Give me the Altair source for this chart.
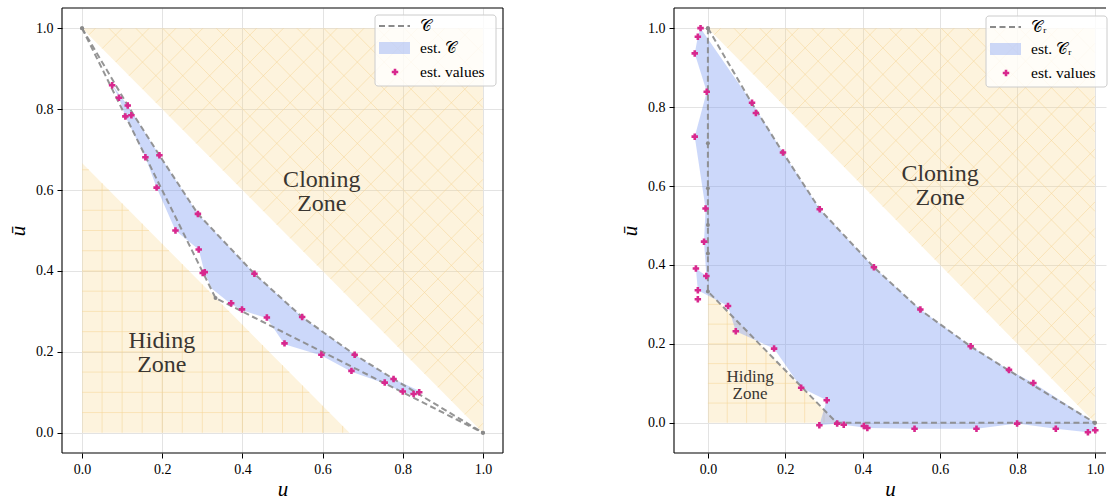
import altair as alt
import pandas as pd
import numpy as np

SERIF = "Liberation Serif"
TICKS = [0.0, 0.2, 0.4, 0.6, 0.8, 1.0]

# ---------------- left panel data ----------------
c_upper_u = [0.0, 0.114, 0.193, 0.289, 0.430, 0.549, 0.680, 0.777, 1.0]
c_upper_ub = [1.0, 0.809, 0.686, 0.541, 0.393, 0.286, 0.193, 0.133, 0.0]
c_lower_u = [0.0, 0.333, 1.0]
c_lower_ub = [1.0, 0.333, 0.0]

left_est_u = [0.075, 0.092, 0.114, 0.108, 0.123, 0.158, 0.193, 0.186, 0.233, 0.289,
              0.291, 0.301, 0.306, 0.372, 0.399, 0.430, 0.461, 0.549, 0.505, 0.597,
              0.680, 0.672, 0.777, 0.755, 0.800, 0.827, 0.841]
left_est_ub = [0.859, 0.828, 0.809, 0.782, 0.785, 0.681, 0.686, 0.606, 0.500, 0.541,
               0.453, 0.395, 0.397, 0.320, 0.305, 0.393, 0.285, 0.286, 0.221, 0.193,
               0.193, 0.153, 0.133, 0.124, 0.102, 0.096, 0.100]

left_band_u = [0.075, 0.114, 0.193, 0.289, 0.430, 0.549, 0.680, 0.777, 0.845, 0.827,
               0.800, 0.755, 0.672, 0.597, 0.505, 0.461, 0.399, 0.372, 0.324, 0.306,
               0.291, 0.233, 0.186, 0.158, 0.108, 0.092]
left_band_ub = [0.860, 0.809, 0.686, 0.541, 0.393, 0.286, 0.193, 0.133, 0.102, 0.094,
                0.100, 0.122, 0.151, 0.191, 0.219, 0.283, 0.303, 0.318, 0.356, 0.395,
                0.453, 0.500, 0.606, 0.681, 0.782, 0.828]

# ---------------- right panel data ----------------
cr_upper_u = [0.0, 0.114, 0.193, 0.289, 0.430, 0.549, 0.680, 0.777, 1.0]
cr_upper_ub = [1.0, 0.809, 0.686, 0.541, 0.393, 0.286, 0.193, 0.133, 0.0]
cr_lower_u = [0.0, 0.0, 0.0, 0.0, 0.0, 0.0, 0.333, 1.0]
cr_lower_ub = [1.0, 0.708, 0.594, 0.501, 0.429, 0.333, 0.0, 0.0]

right_est_u = [-0.019, -0.026, -0.034, -0.003, -0.034, -0.006, -0.010, -0.031, -0.004, -0.026,
               -0.026, 0.052, 0.072, 0.171, 0.241, 0.307, 0.288, 0.334, 0.351, 0.403,
               0.412, 0.534, 0.694, 0.799, 0.899, 0.982, 1.001, 0.114, 0.124, 0.194,
               0.289, 0.429, 0.549, 0.679, 0.778, 0.841]
right_est_ub = [1.000, 0.978, 0.936, 0.839, 0.725, 0.543, 0.459, 0.391, 0.372, 0.336,
                0.313, 0.296, 0.232, 0.188, 0.089, 0.057, -0.006, -0.002, -0.005, -0.008,
                -0.013, -0.015, -0.015, -0.002, -0.015, -0.024, -0.019, 0.811, 0.785, 0.685,
                0.541, 0.394, 0.287, 0.194, 0.134, 0.101]

right_band_u = [-0.019, 0.114, 0.194, 0.289, 0.429, 0.549, 0.679, 0.778, 0.841, 1.0,
                1.001, 0.982, 0.899, 0.799, 0.694, 0.534, 0.412, 0.351, 0.334, 0.288,
                0.307, 0.241, 0.171, 0.072, 0.052, -0.026, -0.031, -0.004, -0.010, -0.006,
                -0.034, -0.003, -0.034, -0.026]
right_band_ub = [1.000, 0.811, 0.685, 0.541, 0.394, 0.287, 0.194, 0.134, 0.101, 0.0,
                 -0.019, -0.024, -0.015, -0.002, -0.015, -0.015, -0.013, -0.005, -0.002, -0.006,
                 0.057, 0.089, 0.188, 0.232, 0.296, 0.336, 0.391, 0.372, 0.459, 0.543,
                 0.725, 0.839, 0.936, 0.978]

# zones (triangles)
cloning_u = [0.0, 1.0, 1.0]
cloning_ub = [1.0, 1.0, 0.0]
left_hiding_u = [0.0, 0.0, 0.667]
left_hiding_ub = [0.0, 0.667, 0.0]
right_hiding_u = [0.0, 0.0, 0.333]
right_hiding_ub = [0.0, 0.333, 0.0]

ZONE_FILL = "#f9d68f"
HATCH = "#f5d595"
BAND = "#7898f2"
PINK = "#d8288e"
GRAY = "#8a8a8a"
TEXT = "#3a3631"


def poly_df(us, ubs, name="p"):
    return pd.DataFrame({"u": us, "ub": ubs, "i": list(range(len(us))), "g": name})


def hatch_x(step):
    rows = []
    for c in np.arange(1 + step, 2.0, step):
        rows.append({"u": c - 1, "ub": 1.0, "u2": 1.0, "ub2": c - 1})
    for d in np.arange(-1 + step / 2, 1.0, step):
        u0, v0 = (1 + d) / 2, (1 - d) / 2
        if d >= 0:
            u1, v1 = 1.0, 1 - d
        else:
            u1, v1 = 1 + d, 1.0
        rows.append({"u": u0, "ub": v0, "u2": u1, "ub2": v1})
    return pd.DataFrame(rows)


def hatch_plus(size, step):
    rows = []
    for a in np.arange(step, size, step):
        rows.append({"u": a, "ub": 0.0, "u2": a, "ub2": size - a})
        rows.append({"u": 0.0, "ub": a, "u2": size - a, "ub2": a})
    return pd.DataFrame(rows)


def panel(W, H, xdom, ydom, upper, lower, est, band, hiding, hiding_size,
          clone_txt, hide_txt, hide_fs, label, legend_pos, show_right_frame):
    xs = alt.Scale(domain=xdom, nice=False, zero=False)
    ys = alt.Scale(domain=ydom, nice=False, zero=False)
    xaxis = alt.Axis(values=TICKS, format=".1f", title="u", titleFontStyle="italic",
                     grid=True, titlePadding=2)
    yaxis = alt.Axis(values=TICKS, format=".1f", title="ū", titleFontStyle="italic",
                     grid=True, titlePadding=7)

    def X(f="u"):
        return alt.X(f"{f}:Q", scale=xs, axis=xaxis)

    def Y(f="ub"):
        return alt.Y(f"{f}:Q", scale=ys, axis=yaxis)

    zones = pd.concat([poly_df(cloning_u, cloning_ub, "clone"),
                       poly_df(hiding[0], hiding[1], "hide")])
    zone_layer = alt.Chart(zones).mark_line(
        fill=ZONE_FILL, fillOpacity=0.3, strokeOpacity=0, interpolate="linear"
    ).encode(x=X(), y=Y(), detail="g:N", order="i:Q")

    hx = alt.Chart(hatch_x(0.067)).mark_rule(color=HATCH, strokeWidth=0.8, opacity=0.65).encode(
        x=X(), y=Y(), x2="u2:Q", y2="ub2:Q")
    hp = alt.Chart(hatch_plus(hiding_size, 0.05)).mark_rule(color=HATCH, strokeWidth=0.8, opacity=0.65).encode(
        x=X(), y=Y(), x2="u2:Q", y2="ub2:Q")

    band_layer = alt.Chart(poly_df(band[0], band[1])).mark_line(
        fill=BAND, fillOpacity=0.38, strokeOpacity=0, interpolate="linear"
    ).encode(x=X(), y=Y(), order="i:Q")

    lines = pd.concat([poly_df(upper[0], upper[1], "up"), poly_df(lower[0], lower[1], "low")])
    line_layer = alt.Chart(lines).mark_line(
        color=GRAY, strokeWidth=2, strokeDash=[6, 3.5], opacity=0.9, interpolate="linear"
    ).encode(x=X(), y=Y(), detail="g:N", order="i:Q")
    vert_layer = alt.Chart(lines).mark_circle(color=GRAY, size=16, opacity=1).encode(x=X(), y=Y())

    est_layer = alt.Chart(pd.DataFrame({"u": est[0], "ub": est[1]})).mark_point(
        shape="cross", filled=True, color=PINK, size=42, opacity=1
    ).encode(x=X(), y=Y())

    clone_layer = alt.Chart(pd.DataFrame([{"u": clone_txt[0], "ub": clone_txt[1], "t": "Cloning\nZone"}])).mark_text(
        font=SERIF, fontSize=24, color=TEXT, lineBreak="\n", lineHeight=24, align="center",
        baseline="middle", dy=-12
    ).encode(x=X(), y=Y(), text="t:N")
    hide_layer = alt.Chart(pd.DataFrame([{"u": hide_txt[0], "ub": hide_txt[1], "t": "Hiding\nZone"}])).mark_text(
        font=SERIF, fontSize=hide_fs, color=TEXT, lineBreak="\n", lineHeight=hide_fs, align="center",
        baseline="middle", dy=-hide_fs / 2
    ).encode(x=X(), y=Y(), text="t:N")

    # legend (placed in pixel space of the panel)
    lx, ly = legend_pos
    one = alt.Data(values=[{"a": 1}])
    leg = [
        alt.Chart(one).mark_rect(fill="white", fillOpacity=0.8, stroke="#cccccc",
                                 strokeWidth=1, cornerRadius=3).encode(
            x=alt.value(lx), x2=alt.value(lx + 121), y=alt.value(ly), y2=alt.value(ly + 71)),
        alt.Chart(one).mark_rule(color=GRAY, strokeWidth=2, strokeDash=[6, 3.5]).encode(
            x=alt.value(lx + 4), x2=alt.value(lx + 35), y=alt.value(ly + 11)),
        alt.Chart(one).mark_rect(fill=BAND, fillOpacity=0.38).encode(
            x=alt.value(lx + 4), x2=alt.value(lx + 35), y=alt.value(ly + 27), y2=alt.value(ly + 39)),
        alt.Chart(one).mark_point(shape="cross", filled=True, color=PINK, size=42, opacity=1).encode(
            x=alt.value(lx + 20), y=alt.value(ly + 57)),
    ]
    for t, yy in [(label, ly + 11), ("est. " + label, ly + 33), ("est. values", ly + 57)]:
        leg.append(alt.Chart(one).mark_text(font=SERIF, fontSize=15.5, color="black", align="left",
                                            baseline="middle", text=t).encode(
            x=alt.value(lx + 45), y=alt.value(yy)))

    frame = [
        alt.Chart(one).mark_rule(color="black", strokeWidth=1.1).encode(
            x=alt.value(0), y=alt.value(0), y2=alt.value(H)),
        alt.Chart(one).mark_rule(color="black", strokeWidth=1.1).encode(
            x=alt.value(0), x2=alt.value(W), y=alt.value(0)),
        alt.Chart(one).mark_rule(color="black", strokeWidth=1.1).encode(
            x=alt.value(0), x2=alt.value(W), y=alt.value(H)),
    ]
    if show_right_frame:
        frame.append(alt.Chart(one).mark_rule(color="black", strokeWidth=1.1).encode(
            x=alt.value(W), y=alt.value(0), y2=alt.value(H)))

    return alt.layer(zone_layer, hx, hp, band_layer, line_layer, vert_layer, est_layer,
                     clone_layer, hide_layer, *leg, *frame).properties(width=W, height=H)


left = panel(441, 445, [-0.05, 1.05], [-0.05, 1.05],
             (c_upper_u, c_upper_ub), (c_lower_u, c_lower_ub),
             (left_est_u, left_est_ub), (left_band_u, left_band_ub),
             (left_hiding_u, left_hiding_ub), 0.667,
             (0.598, 0.595), (0.199, 0.198), 24, "𝒞", (313, 7), True)

right = panel(432, 445, [-0.0876, 1.0287], [-0.0765, 1.051],
              (cr_upper_u, cr_upper_ub), (cr_lower_u, cr_lower_ub),
              (right_est_u, right_est_ub), (right_band_u, right_band_ub),
              (right_hiding_u, right_hiding_ub), 0.333,
              (0.600, 0.600), (0.109, 0.095), 17, "𝒞ᵣ", (312, 8), False)

chart = alt.hconcat(left, right, spacing=115).properties(
    padding={"left": 7, "top": 7, "right": 0, "bottom": 0}
).configure_view(stroke=None).configure_axis(
    domain=False, tickColor="black", tickSize=5, tickWidth=1,
    labelFont=SERIF, labelFontSize=14, labelColor="black", labelPadding=4,
    titleFont=SERIF, titleFontSize=21, titleFontWeight="normal", titleColor="black",
    gridColor="#e3e3e3", gridWidth=1
)

chart.save("out.html", embed_options={"renderer": "svg", "actions": False})
